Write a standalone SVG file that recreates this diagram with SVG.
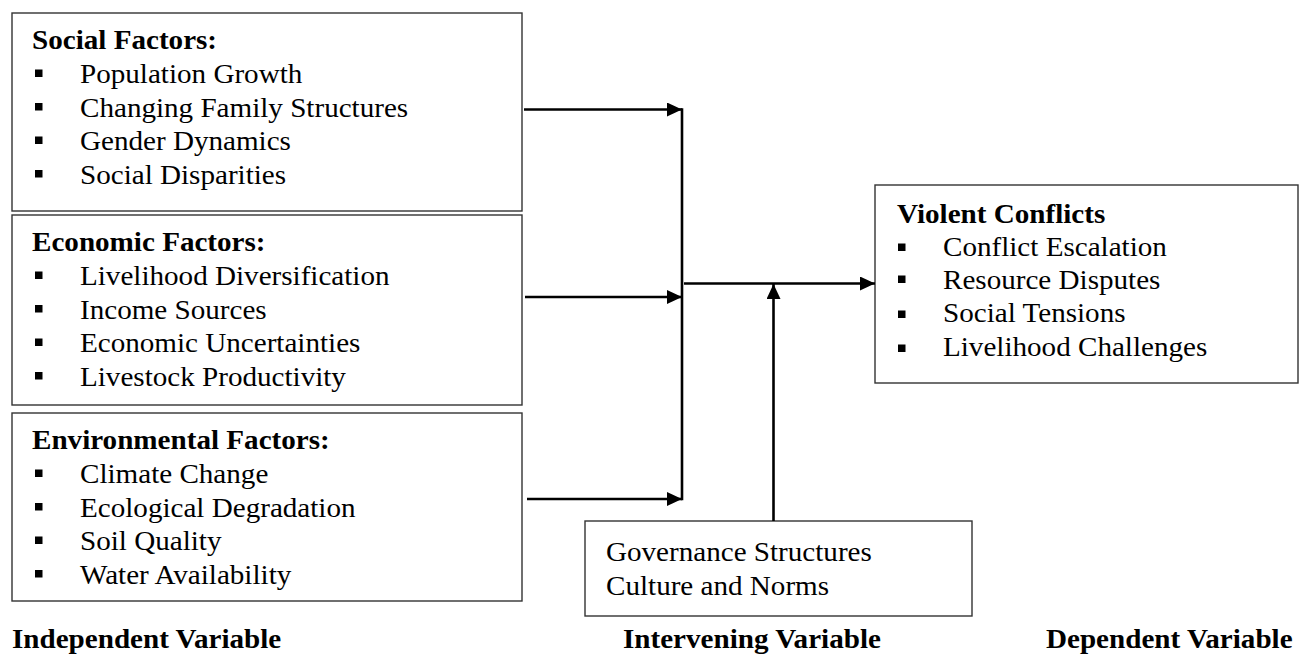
<svg xmlns="http://www.w3.org/2000/svg" width="1312" height="658" viewBox="0 0 1312 658">
<style>
.box{fill:#fff;stroke:#333;stroke-width:1.4}
.t{font-family:"Liberation Serif","Times New Roman",serif;font-size:28px;fill:#000}
.b{font-weight:bold}
.bul{fill:#000}
.ln{stroke:#000;stroke-width:2.6;fill:none}
</style>
<defs>
<marker id="ah" markerUnits="userSpaceOnUse" markerWidth="16" markerHeight="14" refX="15" refY="7" orient="auto">
<path d="M0,0 L15,7 L0,14 z" fill="#000"/>
</marker>
</defs>
<g id="social">
<rect class="box" x="12" y="13" width="510" height="198"/>
<text class="t b" transform="translate(32 48.5) scale(1.04 1)">Social Factors:</text>
<rect class="bul" x="35" y="69.5" width="7.5" height="7.5"/>
<rect class="bul" x="35" y="103" width="7.5" height="7.5"/>
<rect class="bul" x="35" y="136.5" width="7.5" height="7.5"/>
<rect class="bul" x="35" y="170" width="7.5" height="7.5"/>
<text class="t" transform="translate(80 83) scale(1.04 1)">Population Growth</text>
<text class="t" transform="translate(80 116.5) scale(1.04 1)">Changing Family Structures</text>
<text class="t" transform="translate(80 150) scale(1.04 1)">Gender Dynamics</text>
<text class="t" transform="translate(80 183.5) scale(1.04 1)">Social Disparities</text>
</g>
<g id="economic">
<rect class="box" x="12" y="215" width="510" height="190"/>
<text class="t b" transform="translate(32 250.5) scale(1.04 1)">Economic Factors:</text>
<rect class="bul" x="35" y="271.5" width="7.5" height="7.5"/>
<rect class="bul" x="35" y="305" width="7.5" height="7.5"/>
<rect class="bul" x="35" y="338.5" width="7.5" height="7.5"/>
<rect class="bul" x="35" y="372" width="7.5" height="7.5"/>
<text class="t" transform="translate(80 285) scale(1.04 1)">Livelihood Diversification</text>
<text class="t" transform="translate(80 318.5) scale(1.04 1)">Income Sources</text>
<text class="t" transform="translate(80 352) scale(1.04 1)">Economic Uncertainties</text>
<text class="t" transform="translate(80 385.5) scale(1.04 1)">Livestock Productivity</text>
</g>
<g id="environmental">
<rect class="box" x="12" y="413" width="510" height="188"/>
<text class="t b" transform="translate(32 448.5) scale(1.04 1)">Environmental Factors:</text>
<rect class="bul" x="35" y="469.5" width="7.5" height="7.5"/>
<rect class="bul" x="35" y="503" width="7.5" height="7.5"/>
<rect class="bul" x="35" y="536.5" width="7.5" height="7.5"/>
<rect class="bul" x="35" y="570" width="7.5" height="7.5"/>
<text class="t" transform="translate(80 483) scale(1.04 1)">Climate Change</text>
<text class="t" transform="translate(80 516.5) scale(1.04 1)">Ecological Degradation</text>
<text class="t" transform="translate(80 550) scale(1.04 1)">Soil Quality</text>
<text class="t" transform="translate(80 583.5) scale(1.04 1)">Water Availability</text>
</g>
<g id="violent">
<rect class="box" x="875" y="185" width="423" height="198"/>
<text class="t b" transform="translate(897 222.5) scale(1.04 1)">Violent Conflicts</text>
<rect class="bul" x="898" y="243.5" width="7.5" height="7.5"/>
<rect class="bul" x="898" y="275.5" width="7.5" height="7.5"/>
<rect class="bul" x="898" y="310.5" width="7.5" height="7.5"/>
<rect class="bul" x="898" y="344.5" width="7.5" height="7.5"/>
<text class="t" transform="translate(943 255.5) scale(1.04 1)">Conflict Escalation</text>
<text class="t" transform="translate(943 288.5) scale(1.04 1)">Resource Disputes</text>
<text class="t" transform="translate(943 322) scale(1.04 1)">Social Tensions</text>
<text class="t" transform="translate(943 355.5) scale(1.04 1)">Livelihood Challenges</text>
</g>
<g id="intervening">
<rect class="box" x="585" y="521" width="387" height="95"/>
<text class="t" transform="translate(606 561) scale(1.04 1)">Governance Structures</text>
<text class="t" transform="translate(606 595) scale(1.04 1)">Culture and Norms</text>
</g>
<g id="labels">
<text class="t b" transform="translate(12 648) scale(1.04 1)">Independent Variable</text>
<text class="t b" transform="translate(623 648) scale(1.04 1)">Intervening Variable</text>
<text class="t b" transform="translate(1046 648) scale(1.04 1)">Dependent Variable</text>
</g>
<g id="connectors">
<line class="ln" x1="524" y1="109.5" x2="682" y2="109.5" marker-end="url(#ah)"/>
<line class="ln" x1="525" y1="297" x2="682" y2="297" marker-end="url(#ah)"/>
<line class="ln" x1="527" y1="499" x2="682" y2="499" marker-end="url(#ah)"/>
<line class="ln" x1="682" y1="108.2" x2="682" y2="500.3"/>
<line class="ln" x1="684" y1="283.5" x2="875" y2="283.5" marker-end="url(#ah)"/>
<line class="ln" x1="773.5" y1="521" x2="773.5" y2="284" marker-end="url(#ah)"/>
</g>
</svg>
